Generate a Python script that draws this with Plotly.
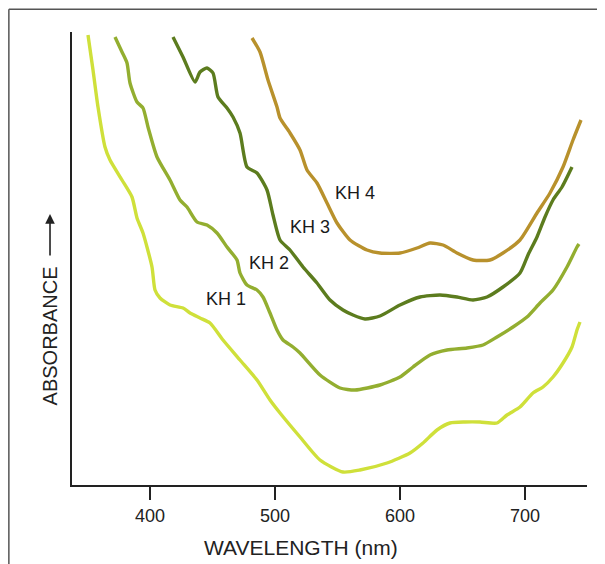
import plotly.graph_objects as go

# Wavelength (nm) and relative absorbance (arbitrary units)
kh1_nm = [350.4, 354.4, 358.4, 364, 368, 377.6, 385.6, 389.6, 394.4, 401.6, 404, 408, 416, 426.4, 432, 440, 448,
          458.4, 472, 485.6, 496, 504, 520, 536, 554.4, 568, 589.6, 608, 618.4, 629.6, 640, 652, 664, 677.6,
          685.6, 696, 706.4, 714.4, 722.4, 730.4, 737.6, 741.6, 744]
kh1_abs = [4.50, 4.15, 3.78, 3.38, 3.25, 3.05, 2.88, 2.67, 2.52, 2.18, 1.95, 1.87, 1.80, 1.77, 1.72, 1.67, 1.62,
           1.45, 1.25, 1.05, 0.85, 0.72, 0.48, 0.25, 0.13, 0.15, 0.22, 0.32, 0.42, 0.55, 0.62, 0.63, 0.63, 0.62,
           0.70, 0.78, 0.92, 0.98, 1.08, 1.22, 1.38, 1.55, 1.63]

kh2_nm = [372, 377.6, 381.6, 384, 389.6, 394.4, 398.4, 405.6, 416, 424, 429.6, 437.6, 445.6, 453.6, 461.6, 469.6,
          472, 477.6, 485.6, 490.4, 496, 501.6, 506.4, 514.4, 520, 536, 552, 564, 584, 600, 610.4, 624, 637.6,
          653.6, 666.4, 677.6, 690.4, 701.6, 712, 722.4, 733.6, 741.6, 743.2]
kh2_abs = [4.48, 4.33, 4.22, 4.02, 3.83, 3.77, 3.58, 3.28, 3.05, 2.85, 2.78, 2.63, 2.60, 2.52, 2.38, 2.25,
           2.12, 2.00, 1.95, 1.88, 1.72, 1.55, 1.45, 1.38, 1.32, 1.10, 0.97, 0.95, 1.00, 1.08, 1.18, 1.30, 1.35,
           1.37, 1.40, 1.48, 1.58, 1.68, 1.82, 1.95, 2.18, 2.38, 2.41]

kh3_nm = [418.4, 426.4, 436, 440, 445.6, 450.4, 454.4, 461.6, 466.4, 472, 477.6, 485.6, 493.6, 498.4, 504, 512,
          522.4, 533.6, 544, 554.4, 562.4, 572, 584, 600, 616, 632, 645.6, 658.4, 669.6, 682.4, 696, 702.4,
          709.6, 716, 722.4, 729.6, 737.6]
kh3_abs = [4.48, 4.28, 4.03, 4.13, 4.17, 4.12, 3.88, 3.77, 3.68, 3.52, 3.18, 3.12, 2.95, 2.70, 2.45, 2.35,
           2.18, 2.02, 1.85, 1.75, 1.70, 1.66, 1.69, 1.80, 1.88, 1.90, 1.88, 1.85, 1.88, 1.98, 2.12, 2.30,
           2.48, 2.68, 2.85, 2.98, 3.18]

kh4_nm = [481.6, 488, 494.4, 501.6, 504, 512, 520, 525.6, 533.6, 541.6, 549.6, 560, 573.6, 584, 600, 613.6, 624,
          634.4, 645.6, 658.4, 672, 682.4, 696, 709.6, 720, 730.4, 738.4, 744.8]
kh4_abs = [4.47, 4.33, 4.05, 3.78, 3.67, 3.52, 3.35, 3.15, 3.02, 2.82, 2.62, 2.45, 2.35, 2.32, 2.32, 2.37, 2.42,
           2.40, 2.32, 2.25, 2.25, 2.32, 2.45, 2.72, 2.92, 3.18, 3.45, 3.65]

series_names = ["KH 1", "KH 2", "KH 3", "KH 4"]
series_colors = ["#cfe03a", "#93ae30", "#5c7c1e", "#b8912c"]
label_nm = [460.4, 495.2, 527.6, 563.6]
label_abs = [1.865, 2.22, 2.58, 2.92]
x_ticks = [400, 500, 600, 700]

FONT = "Liberation Sans, Arial, Helvetica, sans-serif"

fig = go.Figure()
for nm, ab, name, col in zip([kh1_nm, kh2_nm, kh3_nm, kh4_nm],
                             [kh1_abs, kh2_abs, kh3_abs, kh4_abs],
                             series_names, series_colors):
    fig.add_trace(go.Scatter(x=nm, y=ab, mode="lines", name=name,
                             line=dict(color=col, width=3.4, shape="spline", smoothing=0.6),
                             showlegend=False, hoverinfo="skip"))

for name, lx, ly in zip(series_names, label_nm, label_abs):
    fig.add_annotation(x=lx, y=ly, xref="x", yref="y", text=name, showarrow=False,
                       xanchor="center", yanchor="middle",
                       font=dict(family=FONT, size=18, color="#1a1a1a"))

# The page body adds an 8px offset, so the figure is sized to fit the window.
fig.update_layout(
    width=597, height=556,
    margin=dict(l=64, r=18, t=24, b=79),
    paper_bgcolor="white", plot_bgcolor="white",
    font=dict(family=FONT, size=18, color="#222222"),
    xaxis=dict(range=[337.6, 749.6], tickvals=x_ticks, ticktext=[str(v) for v in x_ticks],
               showgrid=False, zeroline=False, showline=True, linecolor="#222222", linewidth=2,
               ticks="outside", ticklen=13, tickwidth=2, tickcolor="#222222",
               tickfont=dict(size=18, family=FONT, color="#222222")),
    yaxis=dict(range=[0, 4.53], showgrid=False, zeroline=False, showline=True,
               linecolor="#222222", linewidth=2, showticklabels=False, ticks=""),
)

# axis titles
fig.add_annotation(x=0.4447, y=-0.1369, xref="paper", yref="paper", text="WAVELENGTH (nm)",
                   xanchor="center", yanchor="middle",
                   showarrow=False, font=dict(family=FONT, size=21, color="#222222"))
fig.add_annotation(x=-0.0427, y=0.328, xref="paper", yref="paper", text="ABSORBANCE",
                   xanchor="center", yanchor="middle",
                   textangle=-90, showarrow=False, font=dict(family=FONT, size=20, color="#222222"))
fig.add_annotation(x=-0.0427, y=0.598, xref="paper", yref="paper", text="", showarrow=True,
                   ax=0, ay=43, arrowhead=2, arrowsize=1.2, arrowwidth=1.6, arrowcolor="#222222")

# scanned page frame
fig.add_shape(type="line", xref="paper", yref="paper", x0=-0.1226, x1=-0.1226, y0=1.05, y1=-0.2,
              line=dict(color="#555555", width=1.5))
fig.add_shape(type="line", xref="paper", yref="paper", x0=-0.1226, x1=1.04, y0=1.05, y1=1.05,
              line=dict(color="#555555", width=1.5))

fig.write_html("out.html")
